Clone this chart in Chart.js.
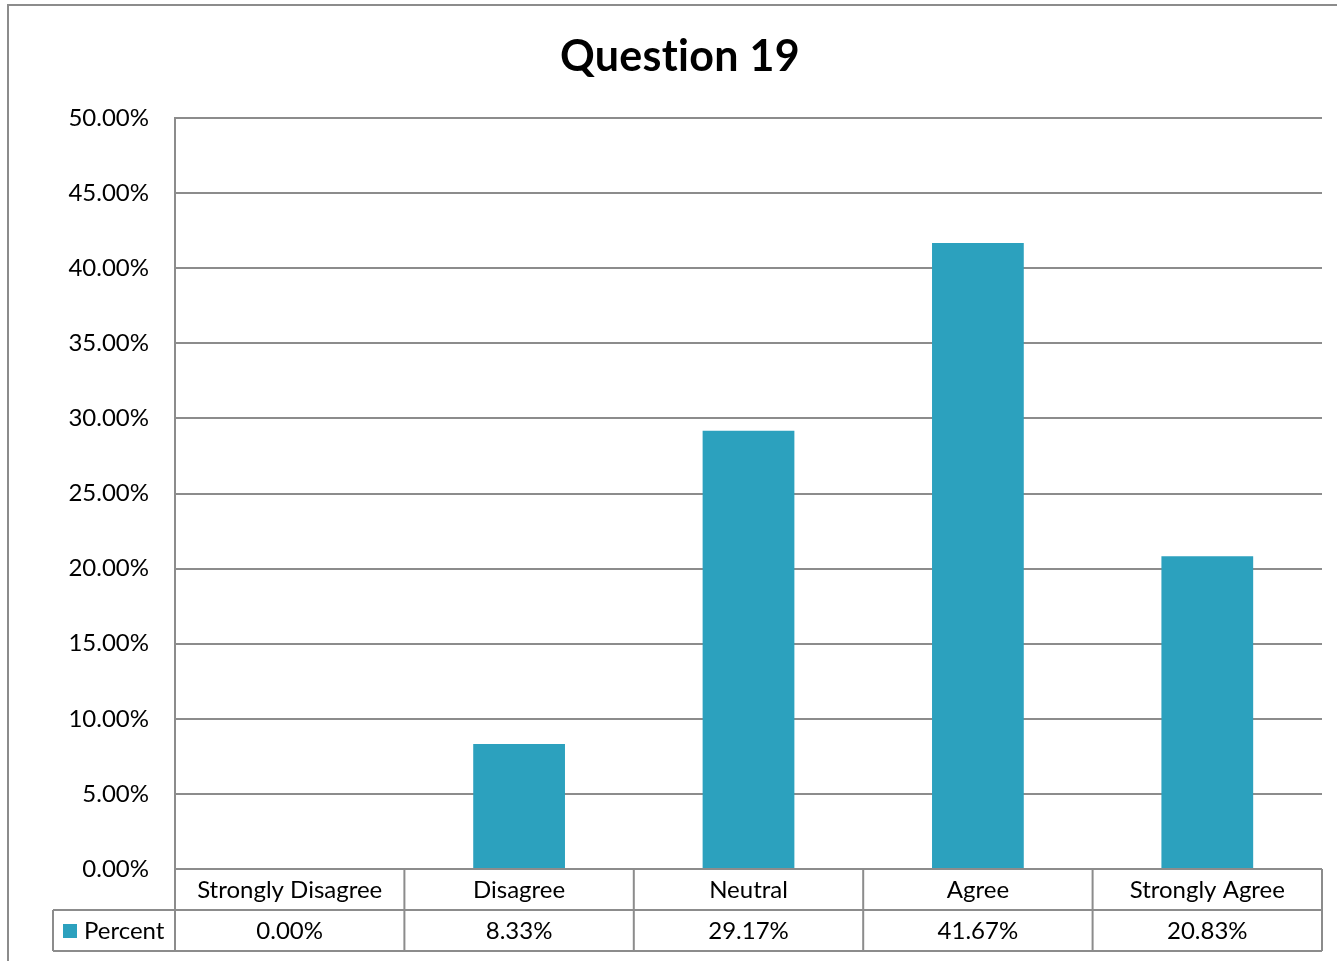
<!DOCTYPE html>
<html>
<head>
<meta charset="utf-8">
<script src="https://cdn.jsdelivr.net/npm/chart.js@4"></script>
<style>
  html, body { margin: 0; padding: 0; background: #fff; }
  #wrap { position: relative; width: 1337px; height: 961px; }
</style>
</head>
<body>
<div id="wrap"><canvas id="graph" width="1337" height="961"></canvas></div>
<script>
const categories = ["Strongly Disagree", "Disagree", "Neutral", "Agree", "Strongly Agree"];
const percentValues = [0.00, 8.33, 29.17, 41.67, 20.83];
const seriesName = "Percent";
const chartTitle = "Question 19";

const FONT = "Lato, 'Open Sans', sans-serif";
const barColor = "#2ca1be";
const lineColor = "#8c8c8c";

const ctx = document.getElementById("graph").getContext("2d");

const chart = new Chart(ctx, {
  type: "bar",
  data: {
    labels: categories,
    datasets: [{
      label: seriesName,
      data: percentValues,
      backgroundColor: barColor,
      borderWidth: 0,
      barPercentage: 0.4,
      categoryPercentage: 1.0
    }]
  },
  options: {
    responsive: false,
    animation: false,
    layout: { padding: { top: 118, right: 15, bottom: 92, left: 0 } },
    scales: {
      x: { display: false },
      y: {
        min: 0,
        max: 50,
        ticks: {
          stepSize: 5,
          padding: 26,
          color: "#000",
          font: { family: FONT, size: 24 },
          callback: v => v.toFixed(2) + "%"
        },
        grid: { color: lineColor, lineWidth: 2, drawTicks: false },
        border: { color: lineColor, width: 2 },
        afterFit(scale) { scale.width = 175; }
      }
    },
    plugins: {
      legend: { display: false },
      title: { display: false },
      tooltip: { enabled: false }
    }
  },
  plugins: [{
    id: "frameTitleTable",
    afterDraw(chart) {
      const { ctx, chartArea, scales } = chart;
      const x = scales.x;
      ctx.save();

      // outer chart border (cut off on right and bottom)
      ctx.strokeStyle = "#8c8c8c";
      ctx.lineWidth = 2;
      ctx.beginPath();
      ctx.moveTo(8, 961);
      ctx.lineTo(8, 5);
      ctx.lineTo(1337, 5);
      ctx.stroke();

      // title
      ctx.fillStyle = "#000";
      ctx.font = "bold 43px " + FONT;
      ctx.letterSpacing = "0.3px";
      ctx.textAlign = "center";
      ctx.textBaseline = "middle";
      ctx.fillText(chartTitle, 680, 57);
      ctx.letterSpacing = "0px";

      // data table
      const top = chartArea.bottom;
      const rowH = 41;
      const left = chartArea.left;
      const right = chartArea.right;
      const step = (right - left) / categories.length;
      const legendLeft = 53;

      ctx.strokeStyle = lineColor;
      ctx.lineWidth = 2;
      ctx.beginPath();
      ctx.moveTo(left, top); ctx.lineTo(right, top);
      ctx.moveTo(legendLeft, top + rowH); ctx.lineTo(right, top + rowH);
      ctx.moveTo(legendLeft, top + 2 * rowH); ctx.lineTo(right, top + 2 * rowH);
      ctx.moveTo(legendLeft, top + rowH); ctx.lineTo(legendLeft, top + 2 * rowH);
      for (let i = 0; i <= categories.length; i++) {
        const cx = left + i * step;
        ctx.moveTo(cx, top); ctx.lineTo(cx, top + 2 * rowH);
      }
      ctx.stroke();

      ctx.fillStyle = "#000";
      ctx.font = "24px " + FONT;
      ctx.textAlign = "center";
      ctx.textBaseline = "middle";
      categories.forEach((c, i) => {
        const cx = x.getPixelForValue(i);
        ctx.fillText(c, cx, top + rowH / 2 + 1);
        ctx.fillText(percentValues[i].toFixed(2) + "%", cx, top + rowH * 1.5 + 1);
      });

      // legend key
      ctx.fillStyle = barColor;
      ctx.fillRect(63, top + rowH + 14, 14, 14);
      ctx.fillStyle = "#000";
      ctx.textAlign = "left";
      ctx.fillText(seriesName, 84, top + rowH * 1.5 + 1);

      ctx.restore();
    }
  }]
});
</script>
</body>
</html>
